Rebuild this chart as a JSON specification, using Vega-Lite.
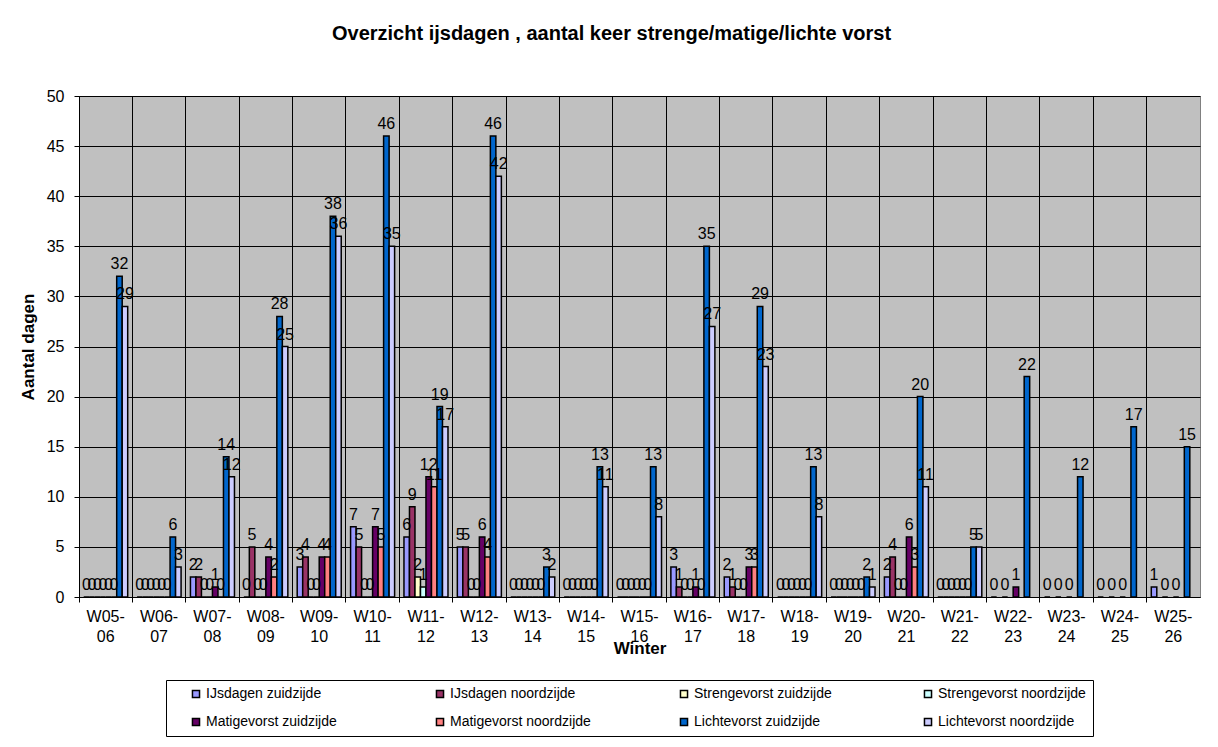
{
  "$schema": "https://vega.github.io/schema/vega-lite/v6.json",
  "autosize": {"type": "none"},
  "padding": {"left": 79, "top": 96, "right": 18, "bottom": 150},
  "width": 1121,
  "height": 501,
  "background": "white",
  "title": {
    "text": "Overzicht ijsdagen , aantal keer strenge/matige/lichte vorst",
    "font": "Liberation Sans", "fontSize": 20, "fontWeight": "bold", "color": "black",
    "anchor": "middle", "dx": -28, "offset": 44
  },
  "config": {
    "view": {"fill": "#C0C0C0", "stroke": "#808080", "strokeWidth": 1},
    "axis": {
      "labelFont": "Liberation Sans", "titleFont": "Liberation Sans",
      "labelFontSize": 16, "titleFontSize": 17, "labelColor": "black", "titleColor": "black",
      "domainColor": "black", "tickColor": "black", "gridColor": "black", "gridOpacity": 1
    }
  },
  "data": {
    "values": [
      {"Winter": "W05-06", "IJsdagen zuidzijde": 0, "IJsdagen noordzijde": 0, "Strengevorst zuidzijde": 0, "Strengevorst noordzijde": 0, "Matigevorst zuidzijde": 0, "Matigevorst noordzijde": 0, "Lichtevorst zuidzijde": 32, "Lichtevorst noordzijde": 29},
      {"Winter": "W06-07", "IJsdagen zuidzijde": 0, "IJsdagen noordzijde": 0, "Strengevorst zuidzijde": 0, "Strengevorst noordzijde": 0, "Matigevorst zuidzijde": 0, "Matigevorst noordzijde": 0, "Lichtevorst zuidzijde": 6, "Lichtevorst noordzijde": 3},
      {"Winter": "W07-08", "IJsdagen zuidzijde": 2, "IJsdagen noordzijde": 2, "Strengevorst zuidzijde": 0, "Strengevorst noordzijde": 0, "Matigevorst zuidzijde": 1, "Matigevorst noordzijde": 0, "Lichtevorst zuidzijde": 14, "Lichtevorst noordzijde": 12},
      {"Winter": "W08-09", "IJsdagen zuidzijde": 0, "IJsdagen noordzijde": 5, "Strengevorst zuidzijde": 0, "Strengevorst noordzijde": 0, "Matigevorst zuidzijde": 4, "Matigevorst noordzijde": 2, "Lichtevorst zuidzijde": 28, "Lichtevorst noordzijde": 25},
      {"Winter": "W09-10", "IJsdagen zuidzijde": 3, "IJsdagen noordzijde": 4, "Strengevorst zuidzijde": 0, "Strengevorst noordzijde": 0, "Matigevorst zuidzijde": 4, "Matigevorst noordzijde": 4, "Lichtevorst zuidzijde": 38, "Lichtevorst noordzijde": 36},
      {"Winter": "W10-11", "IJsdagen zuidzijde": 7, "IJsdagen noordzijde": 5, "Strengevorst zuidzijde": 0, "Strengevorst noordzijde": 0, "Matigevorst zuidzijde": 7, "Matigevorst noordzijde": 5, "Lichtevorst zuidzijde": 46, "Lichtevorst noordzijde": 35},
      {"Winter": "W11-12", "IJsdagen zuidzijde": 6, "IJsdagen noordzijde": 9, "Strengevorst zuidzijde": 2, "Strengevorst noordzijde": 1, "Matigevorst zuidzijde": 12, "Matigevorst noordzijde": 11, "Lichtevorst zuidzijde": 19, "Lichtevorst noordzijde": 17},
      {"Winter": "W12-13", "IJsdagen zuidzijde": 5, "IJsdagen noordzijde": 5, "Strengevorst zuidzijde": 0, "Strengevorst noordzijde": 0, "Matigevorst zuidzijde": 6, "Matigevorst noordzijde": 4, "Lichtevorst zuidzijde": 46, "Lichtevorst noordzijde": 42},
      {"Winter": "W13-14", "IJsdagen zuidzijde": 0, "IJsdagen noordzijde": 0, "Strengevorst zuidzijde": 0, "Strengevorst noordzijde": 0, "Matigevorst zuidzijde": 0, "Matigevorst noordzijde": 0, "Lichtevorst zuidzijde": 3, "Lichtevorst noordzijde": 2},
      {"Winter": "W14-15", "IJsdagen zuidzijde": 0, "IJsdagen noordzijde": 0, "Strengevorst zuidzijde": 0, "Strengevorst noordzijde": 0, "Matigevorst zuidzijde": 0, "Matigevorst noordzijde": 0, "Lichtevorst zuidzijde": 13, "Lichtevorst noordzijde": 11},
      {"Winter": "W15-16", "IJsdagen zuidzijde": 0, "IJsdagen noordzijde": 0, "Strengevorst zuidzijde": 0, "Strengevorst noordzijde": 0, "Matigevorst zuidzijde": 0, "Matigevorst noordzijde": 0, "Lichtevorst zuidzijde": 13, "Lichtevorst noordzijde": 8},
      {"Winter": "W16-17", "IJsdagen zuidzijde": 3, "IJsdagen noordzijde": 1, "Strengevorst zuidzijde": 0, "Strengevorst noordzijde": 0, "Matigevorst zuidzijde": 1, "Matigevorst noordzijde": 0, "Lichtevorst zuidzijde": 35, "Lichtevorst noordzijde": 27},
      {"Winter": "W17-18", "IJsdagen zuidzijde": 2, "IJsdagen noordzijde": 1, "Strengevorst zuidzijde": 0, "Strengevorst noordzijde": 0, "Matigevorst zuidzijde": 3, "Matigevorst noordzijde": 3, "Lichtevorst zuidzijde": 29, "Lichtevorst noordzijde": 23},
      {"Winter": "W18-19", "IJsdagen zuidzijde": 0, "IJsdagen noordzijde": 0, "Strengevorst zuidzijde": 0, "Strengevorst noordzijde": 0, "Matigevorst zuidzijde": 0, "Matigevorst noordzijde": 0, "Lichtevorst zuidzijde": 13, "Lichtevorst noordzijde": 8},
      {"Winter": "W19-20", "IJsdagen zuidzijde": 0, "IJsdagen noordzijde": 0, "Strengevorst zuidzijde": 0, "Strengevorst noordzijde": 0, "Matigevorst zuidzijde": 0, "Matigevorst noordzijde": 0, "Lichtevorst zuidzijde": 2, "Lichtevorst noordzijde": 1},
      {"Winter": "W20-21", "IJsdagen zuidzijde": 2, "IJsdagen noordzijde": 4, "Strengevorst zuidzijde": 0, "Strengevorst noordzijde": 0, "Matigevorst zuidzijde": 6, "Matigevorst noordzijde": 3, "Lichtevorst zuidzijde": 20, "Lichtevorst noordzijde": 11},
      {"Winter": "W21-22", "IJsdagen zuidzijde": 0, "IJsdagen noordzijde": 0, "Strengevorst zuidzijde": 0, "Strengevorst noordzijde": 0, "Matigevorst zuidzijde": 0, "Matigevorst noordzijde": 0, "Lichtevorst zuidzijde": 5, "Lichtevorst noordzijde": 5},
      {"Winter": "W22-23", "IJsdagen zuidzijde": 0, "Strengevorst zuidzijde": 0, "Matigevorst zuidzijde": 1, "Lichtevorst zuidzijde": 22},
      {"Winter": "W23-24", "IJsdagen zuidzijde": 0, "Strengevorst zuidzijde": 0, "Matigevorst zuidzijde": 0, "Lichtevorst zuidzijde": 12},
      {"Winter": "W24-25", "IJsdagen zuidzijde": 0, "Strengevorst zuidzijde": 0, "Matigevorst zuidzijde": 0, "Lichtevorst zuidzijde": 17},
      {"Winter": "W25-26", "IJsdagen zuidzijde": 1, "Strengevorst zuidzijde": 0, "Matigevorst zuidzijde": 0, "Lichtevorst zuidzijde": 15}
    ]
  },
  "transform": [
    {"fold": ["IJsdagen zuidzijde", "IJsdagen noordzijde", "Strengevorst zuidzijde", "Strengevorst noordzijde", "Matigevorst zuidzijde", "Matigevorst noordzijde", "Lichtevorst zuidzijde", "Lichtevorst noordzijde"], "as": ["Serie", "Dagen"]},
    {"filter": "isValid(datum.Dagen)"}
  ],
  "encoding": {
    "x": {
      "field": "Winter", "type": "nominal", "sort": null,
      "scale": {"paddingInner": 0, "paddingOuter": 0},
      "axis": {
        "title": "Winter", "titleFontWeight": "bold", "titleY": 43,
        "labelAngle": 0, "labelPadding": 6, "labelLineHeight": 20,
        "labelExpr": "[slice(datum.value, 0, 4), slice(datum.value, 4)]",
        "bandPosition": 0, "grid": true, "ticks": true, "tickSize": 5, "domain": true
      }
    },
    "xOffset": {
      "field": "Serie", "type": "nominal",
      "scale": {
        "domain": ["IJsdagen zuidzijde", "IJsdagen noordzijde", "Strengevorst zuidzijde", "Strengevorst noordzijde", "Matigevorst zuidzijde", "Matigevorst noordzijde", "Lichtevorst zuidzijde", "Lichtevorst noordzijde"],
        "paddingInner": 0, "paddingOuter": 0.85
      }
    },
    "y": {
      "field": "Dagen", "type": "quantitative",
      "scale": {"domain": [0, 50]},
      "axis": {
        "title": "Aantal dagen", "titleFontWeight": "bold", "titlePadding": 9,
        "values": [0, 5, 10, 15, 20, 25, 30, 35, 40, 45, 50],
        "grid": true, "tickSize": 5, "labelPadding": 10
      }
    }
  },
  "layer": [
    {
      "mark": {"type": "bar", "stroke": "black", "strokeWidth": 1.5},
      "encoding": {
        "color": {
          "field": "Serie", "type": "nominal",
          "scale": {
            "domain": ["IJsdagen zuidzijde", "IJsdagen noordzijde", "Strengevorst zuidzijde", "Strengevorst noordzijde", "Matigevorst zuidzijde", "Matigevorst noordzijde", "Lichtevorst zuidzijde", "Lichtevorst noordzijde"],
            "range": ["#9999FF", "#993366", "#FFFFCC", "#CCFFFF", "#660066", "#FF8080", "#0066CC", "#CCCCFF"]
          },
          "legend": {
            "title": " ", "titleOrient": "left", "titlePadding": 16,
            "orient": "none", "legendX": 87, "legendY": 584,
            "direction": "horizontal", "columns": 4, "gridAlign": "all",
            "columnPadding": 79, "rowPadding": 14, "padding": 7,
            "fillColor": "white", "strokeColor": "black",
            "symbolType": "square", "symbolSize": 50, "symbolStrokeColor": "black", "symbolStrokeWidth": 1.5,
            "symbolOpacity": 1,
            "labelFont": "Liberation Sans", "labelFontSize": 14, "labelColor": "black", "labelOffset": 3, "labelLimit": 300
          }
        }
      }
    },
    {
      "mark": {"type": "text", "baseline": "bottom", "dy": -4, "font": "Liberation Sans", "fontSize": 16, "color": "black"},
      "encoding": {
        "text": {"field": "Dagen", "type": "quantitative"}
      }
    }
  ]
}
